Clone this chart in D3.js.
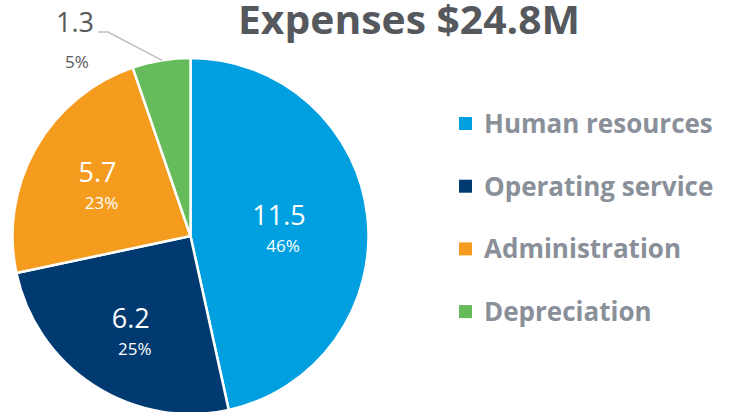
<!DOCTYPE html>
<html>
<meta charset="utf-8">
<head>
    <script src="https://d3js.org/d3.v7.min.js"></script>
    <style>
        body { margin: 0; background: #fff; }
        text { font-family: "Open Sans", "Noto Sans", sans-serif; }
    </style>
</head>
<body>
<div id="chart"></div>
<script>

var categories = ["Human resources", "Operating service", "Administration", "Depreciation"];
var values = [11.5, 6.2, 5.7, 1.3];
var percents = ["46%", "25%", "23%", "5%"];
var colors = ["#00a0e0", "#003a70", "#f59c1e", "#66bb5a"];

var width = 734, height = 412;
var cx = 190.5, cy = 236, radius = 178;
// how far from the centre each inside label sits, as a share of the radius
var labelPos = [0.5, 0.62, 0.6];

var svg = d3.select("#chart").append("svg")
    .attr("width", width)
    .attr("height", height);

// title
svg.append("text")
    .attr("x", 409)
    .attr("y", 34)
    .attr("text-anchor", "middle")
    .attr("font-size", 39)
    .attr("font-weight", "bold")
    .attr("fill", "#55585c")
    .attr("textLength", 342)
    .attr("lengthAdjust", "spacingAndGlyphs")
    .text("Expenses $24.8M");

var pie = d3.pie().sort(null).value(function(d){ return d; });
var arcs = pie(values);
var arc = d3.arc().innerRadius(0).outerRadius(radius);

var g = svg.append("g").attr("transform", "translate(" + cx + "," + cy + ")");

g.selectAll("path")
    .data(arcs)
    .enter()
    .append("path")
    .attr("d", arc)
    .attr("fill", function(d, i){ return colors[i]; })
    .attr("stroke", "#fff")
    .attr("stroke-width", 2.5);

// inside labels (all but the small slice)
var inside = g.selectAll("g.lbl")
    .data(arcs.filter(function(d){ return d.index < 3; }))
    .enter()
    .append("g")
    .attr("class", "lbl")
    .attr("transform", function(d){
        var r = radius * labelPos[d.index];
        var c = d3.arc().innerRadius(r).outerRadius(r).centroid(d);
        return "translate(" + c[0] + "," + c[1] + ")";
    });

inside.append("text")
    .attr("text-anchor", "middle")
    .attr("y", -1)
    .attr("font-size", 27)
    .attr("fill", "#fff")
    .text(function(d){ return values[d.index]; });

inside.append("text")
    .attr("text-anchor", "middle")
    .attr("x", 4)
    .attr("y", 26)
    .attr("font-size", 17)
    .attr("fill", "#fff")
    .text(function(d){ return percents[d.index]; });

// outside label for the small slice, with leader line
var small = arcs[3];
var edge = d3.arc().innerRadius(radius).outerRadius(radius).centroid(small);
svg.append("polyline")
    .attr("points", [[98, 32], [108, 32], [cx + edge[0] + 1, cy + edge[1]]].map(function(p){ return p.join(","); }).join(" "))
    .attr("fill", "none")
    .attr("stroke", "#bfbfbf")
    .attr("stroke-width", 1.5);

svg.append("text")
    .attr("x", 75)
    .attr("y", 32)
    .attr("text-anchor", "middle")
    .attr("font-size", 27)
    .attr("fill", "#595959")
    .text(values[3]);

svg.append("text")
    .attr("x", 77)
    .attr("y", 68)
    .attr("text-anchor", "middle")
    .attr("font-size", 17)
    .attr("fill", "#595959")
    .text(percents[3]);

// legend
var legend = svg.selectAll("g.leg")
    .data(categories)
    .enter()
    .append("g")
    .attr("class", "leg")
    .attr("transform", function(d, i){ return "translate(459," + (123 + i * 62.7) + ")"; });

legend.append("rect")
    .attr("x", 0)
    .attr("y", -6)
    .attr("width", 13)
    .attr("height", 13)
    .attr("fill", function(d, i){ return colors[i]; });

legend.append("text")
    .attr("x", 25)
    .attr("y", 10)
    .attr("font-size", 26)
    .attr("font-weight", "bold")
    .attr("fill", "#8a9099")
    .text(function(d){ return d; });

</script>
</body>
</html>
